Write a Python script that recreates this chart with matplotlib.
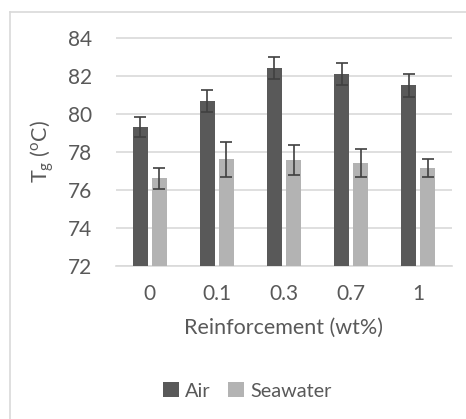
import matplotlib
matplotlib.use("Agg")
import matplotlib.pyplot as plt
from matplotlib.lines import Line2D
import numpy as np

categories = ["0", "0.1", "0.3", "0.7", "1"]
air = [79.3, 80.68, 82.4, 82.1, 81.5]
air_err = [0.55, 0.58, 0.6, 0.58, 0.6]
seawater = [76.6, 77.6, 77.56, 77.42, 77.16]
seawater_err = [0.57, 0.9, 0.8, 0.74, 0.47]

W, H, DPI = 466, 419, 100
plt.rcParams["font.family"] = ["Lato", "DejaVu Sans"]
plt.rcParams["mathtext.fontset"] = "custom"
plt.rcParams["mathtext.rm"] = "Lato"
plt.rcParams["mathtext.it"] = "Lato:italic"

text_c = "#595959"
fig = plt.figure(figsize=(W / DPI, H / DPI), dpi=DPI)
ax = fig.add_axes([116 / W, 1 - 266 / H, (452 - 116) / W, (266 - 37.5) / H])

x = np.arange(len(categories))
bw = 0.223
off = 0.142
ekw = dict(ecolor="#404040", elinewidth=1.2, capsize=4, capthick=1.2)
ax.bar(x - off, air, bw, color="#595959", yerr=air_err, error_kw=ekw, label="Air", zorder=3)
ax.bar(x + off, seawater, bw, color="#b3b3b3", yerr=seawater_err, error_kw=ekw,
       label="Seawater", zorder=3)

ax.set_xlim(-0.5, len(categories) - 0.5)
ax.set_ylim(72, 84)
ax.set_yticks(np.arange(72, 85, 2))
ax.set_xticks(x)
ax.set_xticklabels(categories)
ax.yaxis.grid(True, color="#d9d9d9", linewidth=1.2, zorder=0)
for s in ["top", "right", "left"]:
    ax.spines[s].set_visible(False)
ax.spines["bottom"].set_color("#d9d9d9")
ax.spines["bottom"].set_linewidth(1.2)
ax.tick_params(axis="both", length=0, colors=text_c, labelsize=15)
ax.tick_params(axis="x", pad=13)
ax.tick_params(axis="y", pad=17)

ax.set_xlabel("Reinforcement (wt%)", color=text_c, fontsize=15.5, labelpad=10)
ax.set_ylabel(r"T$_\mathrm{g}$ ($^\mathrm{o}$C)", color=text_c, fontsize=15.5, labelpad=9)

fig.legend(loc="center", bbox_to_anchor=(247 / W, 1 - 391 / H), ncol=2, frameon=False,
           fontsize=14.3, labelcolor=text_c, handlelength=0.8, handleheight=0.8,
           handletextpad=0.3, columnspacing=0.9)

# outer chart frame
fig.add_artist(Line2D([10 / W, 10 / W], [0, 1 - 12 / H], color="#d9d9d9", lw=1.2,
                      transform=fig.transFigure))
fig.add_artist(Line2D([10 / W, 1], [1 - 12 / H, 1 - 12 / H], color="#d9d9d9", lw=1.2,
                      transform=fig.transFigure))

fig.savefig("out.png", dpi=DPI)
